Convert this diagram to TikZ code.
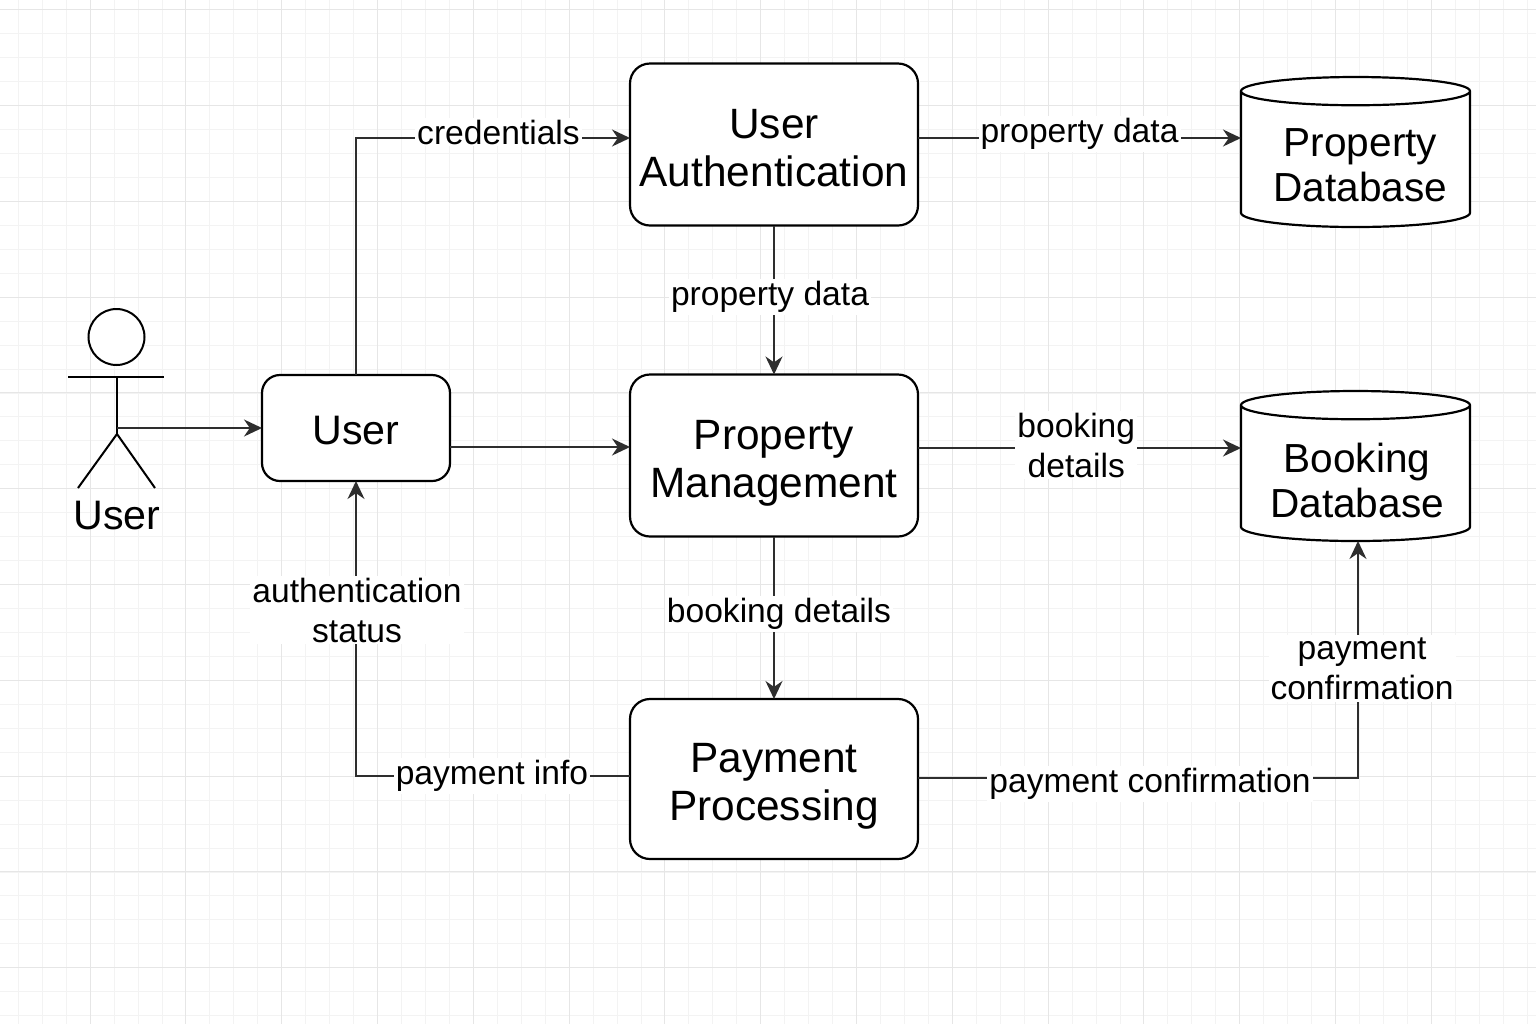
\documentclass[tikz,border=0pt]{standalone}
\usepackage{fontspec}
\setmainfont{Liberation Sans}
\usetikzlibrary{arrows.meta,positioning,shapes.geometric}
\definecolor{gridminor}{HTML}{F3F3F3}
\definecolor{gridmajor}{HTML}{E6E6E6}
\definecolor{flowcol}{HTML}{2E2E2E}
\begin{document}
\begin{tikzpicture}[
      x=0.5pt,y=-0.5pt,
      procbox/.style={
         rectangle,
         rounded corners=10pt,
         draw=black,
         fill=white,
         line width=1.1pt,
         align=center,
         inner sep=0pt,
         outer sep=0pt,
         text height=46.2pt,
         text depth=4.5pt,
         minimum width=144pt,
         minimum height=81pt,
         font=\fontsize{21.2}{24}\selectfont},
      userbox/.style={
         procbox,
         minimum width=94pt,
         minimum height=53pt,
         rounded corners=9pt,
         text height=16pt,
         text depth=0pt,
         font=\fontsize{20.6}{24}\selectfont},
      dbase/.style={
         cylinder,
         shape border rotate=90,
         aspect=0.33,
         anchor=shape center,
         draw=black,
         fill=white,
         line width=1.1pt,
         inner sep=0pt,
         outer sep=0pt,
         minimum width=114.5pt,
         minimum height=75pt},
      dbtext/.style={
         align=center,
         inner sep=0pt,
         font=\fontsize{20.3}{22.5}\selectfont},
      myarrow/.style={-{Stealth[length=9pt,width=8.5pt]},line width=0.8pt,draw=flowcol},
      lbl/.style={
         fill=white,
         inner sep=1pt,
         align=center,
         font=\fontsize{16.8}{20}\selectfont},
      stick/.style={line width=1pt,draw=black}
      ]
      \useasboundingbox (0,0) rectangle (1536,1024);
      \fill[white] (0,0) rectangle (1536,1024);

      % background grid
      \foreach \k in {0,...,63}
         \draw[gridminor,line width=0.4pt] ({18.2+23.95*\k},0) -- ({18.2+23.95*\k},1024);
      \foreach \k in {0,...,42}
         \draw[gridminor,line width=0.4pt] (0,{9.7+23.95*\k}) -- (1536,{9.7+23.95*\k});
      \foreach \k in {0,...,15}
         \draw[gridmajor,line width=0.5pt] ({90.05-95.8+95.8*\k},0) -- ({90.05-95.8+95.8*\k},1024);
      \foreach \k in {0,...,10}
         \draw[gridmajor,line width=0.5pt] (0,{9.7+95.8*\k}) -- (1536,{9.7+95.8*\k});

      \node[procbox] (auth) at (774,144.5) {User\\Authentication};
      \node[procbox] (prop) at (774,455.5) {Property\\Management};
      \node[procbox,minimum height=80pt] (pay) at (774,779) {Payment\\Processing};
      \node[userbox] (user) at (356,428) {User};
      \node[dbase] (propdb) at (1355.5,152) {\phantom{Database}};
      \node[dbase] (bookdb) at (1355.5,466) {\phantom{Database}};
      \node[dbtext] (propdbtxt) at (1360.5,165) {Property\\Database};
      \node[dbtext] (bookdbtxt) at (1357,480) {Booking\\Database};

      % stick figure
      \node[circle,stick,fill=white,inner sep=0pt,minimum size=28pt] (head) at (116.5,337) {};
      \coordinate (armL) at (68,377);
      \coordinate (armR) at (164,377);
      \coordinate (neck) at (117,377);
      \coordinate (hip) at (117,434);
      \coordinate (hand) at (117,428);
      \coordinate (footL) at (78,488);
      \coordinate (footR) at (155,488);
      \draw[stick] (armL) -- (armR);
      \draw[stick] (neck) -- (hip);
      \draw[stick] (footL) -- (hip) -- (footR);
      \node[font=\fontsize{20.6}{22}\selectfont,inner sep=0pt] (actor) at (117,516) {User};

      \coordinate (authout) at ([yshift=3.25pt]auth.east);
      \coordinate (propout) at ([yshift=3.75pt]prop.east);

      \draw[myarrow] (hand) -- (user.west);
      \draw[myarrow] ([yshift=-9.5pt]user.east) -- ([yshift=4.25pt]prop.west);
      \draw[myarrow] (auth) -- (prop);
      \draw[myarrow] (prop) -- (pay);
      \draw[myarrow] (user.north) |- node[lbl,pos=0.76,yshift=3pt] {credentials} ([yshift=3.25pt]auth.west);
      \draw[myarrow] (authout) -- node[lbl,pos=0.5,yshift=2pt] {property data} (propdb.west|-authout);
      \draw[myarrow] (propout) -- node[lbl,pos=0.49,yshift=1.5pt] {booking\\details} (bookdb.west|-propout);
      \draw[myarrow] ([yshift=1.5pt]pay.west) -| (user.south);
      \draw[myarrow] ([yshift=0.5pt]pay.east) -| ([xshift=1.25pt]bookdb.south);

      % labels outside the paths
      \node[lbl] (lblauthprop) at (770,297) {property data};
      \node[lbl] (lblpropay) at (779,614) {booking details};
      \node[lbl] (lblstatus) at (357,610) {authentication\\status};
      \node[lbl] (lblinfo) at (492,776) {payment info};
      \node[lbl] (lblconf) at (1150,784) {payment confirmation};
      \node[lbl] (lblconfup) at (1362,668.5) {payment\\confirmation};
    \end{tikzpicture}
\end{document}
